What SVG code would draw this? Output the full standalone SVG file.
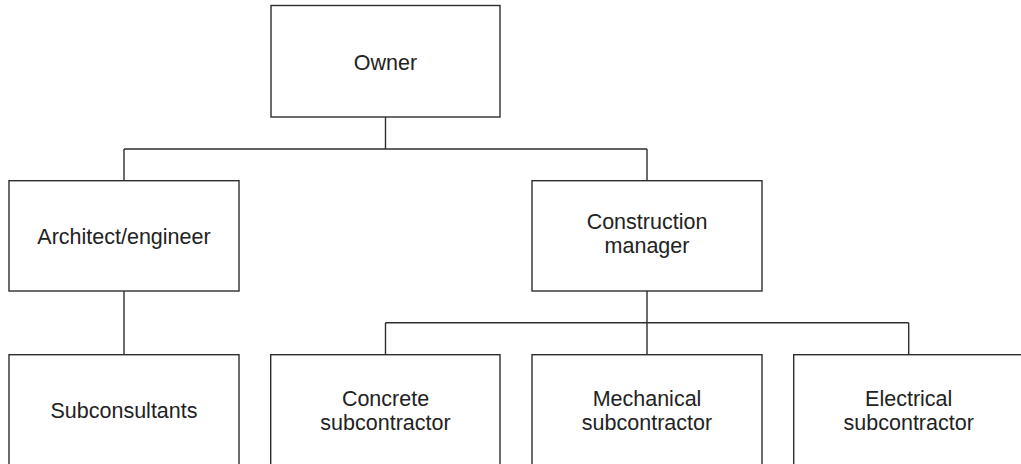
<svg xmlns="http://www.w3.org/2000/svg" width="1021" height="464" viewBox="0 0 1021 464">
  <style>
    .box { fill: #ffffff; stroke: #2e2e2e; stroke-width: 1.4; }
    .wire { fill: none; stroke: #2e2e2e; stroke-width: 1.4; }
    .label { font-family: "Liberation Sans", Arial, sans-serif; font-size: 21.5px; fill: #222222; text-anchor: middle; }
  </style>
  <rect width="1021" height="464" fill="#ffffff"/>

  <!-- connectors -->
  <g id="connectors">
    <path class="wire" d="M385.5 117 V149 M124 149 H647 M124 149 V180.7 M647 149 V180.7"/>
    <path class="wire" d="M124 291 V354.7"/>
    <path class="wire" d="M647 291 V354.7 M385.5 322.7 H908.7 M385.5 322.7 V354.7 M908.7 322.7 V354.7"/>
  </g>

  <g id="owner">
    <rect class="box" x="271" y="5.5" width="229" height="111.5"/>
    <text class="label" x="385.5" y="70">Owner</text>
  </g>

  <g id="architect">
    <rect class="box" x="9" y="180.7" width="230" height="110.3"/>
    <text class="label" x="124" y="244.3">Architect/engineer</text>
  </g>

  <g id="construction-manager">
    <rect class="box" x="532" y="180.7" width="230" height="110.3"/>
    <text class="label" x="647" y="229.3">Construction</text>
    <text class="label" x="647" y="253.3">manager</text>
  </g>

  <g id="subconsultants">
    <rect class="box" x="9" y="354.7" width="230" height="120"/>
    <text class="label" x="124" y="418.3">Subconsultants</text>
  </g>

  <g id="concrete">
    <rect class="box" x="270.7" y="354.7" width="229.3" height="120"/>
    <text class="label" x="385.5" y="406">Concrete</text>
    <text class="label" x="385.5" y="430.3">subcontractor</text>
  </g>

  <g id="mechanical">
    <rect class="box" x="532" y="354.7" width="230" height="120"/>
    <text class="label" x="647" y="406">Mechanical</text>
    <text class="label" x="647" y="430.3">subcontractor</text>
  </g>

  <g id="electrical">
    <rect class="box" x="793.7" y="354.7" width="230" height="120"/>
    <text class="label" x="908.7" y="406">Electrical</text>
    <text class="label" x="908.7" y="430.3">subcontractor</text>
  </g>
</svg>
